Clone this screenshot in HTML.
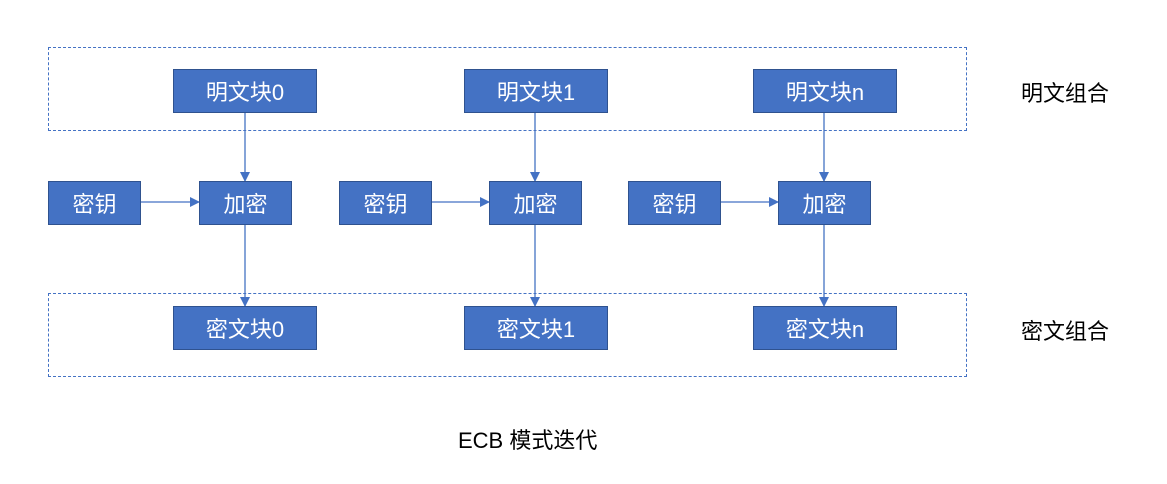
<!DOCTYPE html><html><head><meta charset="utf-8"><style>
body{margin:0;width:1167px;height:484px;background:#fff;position:relative;font-family:"Liberation Sans","Noto Sans CJK SC",sans-serif;overflow:hidden}
.b{position:absolute;background:#4472C4;border:1px solid #2F528F;box-sizing:border-box;color:#fff;font-size:22px;display:flex;align-items:center;justify-content:center}
.d{position:absolute;border:1px dashed #4472C4;box-sizing:border-box}
.t{position:absolute;font-size:22px;color:#000}
</style></head><body>
<div class="d" style="left:48px;top:47px;width:919px;height:84px"></div>
<div class="d" style="left:48px;top:293px;width:919px;height:84px"></div>
<svg style="position:absolute;left:0;top:0" width="1167" height="484">
<defs><marker id="a" markerWidth="10" markerHeight="10" refX="9" refY="5" orient="auto" markerUnits="userSpaceOnUse"><path d="M0,0L10,5L0,10z" fill="#4472C4"/></marker></defs>
<g stroke="#4472C4" stroke-width="1.3">
<line x1="245" y1="112" x2="245" y2="181" marker-end="url(#a)"/>
<line x1="535" y1="112" x2="535" y2="181" marker-end="url(#a)"/>
<line x1="824" y1="112" x2="824" y2="181" marker-end="url(#a)"/>
<line x1="245" y1="224" x2="245" y2="306" marker-end="url(#a)"/>
<line x1="535" y1="224" x2="535" y2="306" marker-end="url(#a)"/>
<line x1="824" y1="224" x2="824" y2="306" marker-end="url(#a)"/>
<line x1="141" y1="202" x2="199" y2="202" marker-end="url(#a)"/>
<line x1="432" y1="202" x2="489" y2="202" marker-end="url(#a)"/>
<line x1="721" y1="202" x2="778" y2="202" marker-end="url(#a)"/>
</g></svg>
<div class="b" style="left:173px;top:69px;width:144px;height:44px">明文块0</div>
<div class="b" style="left:464px;top:69px;width:144px;height:44px">明文块1</div>
<div class="b" style="left:753px;top:69px;width:144px;height:44px">明文块n</div>
<div class="b" style="left:48px;top:181px;width:93px;height:44px">密钥</div>
<div class="b" style="left:339px;top:181px;width:93px;height:44px">密钥</div>
<div class="b" style="left:628px;top:181px;width:93px;height:44px">密钥</div>
<div class="b" style="left:199px;top:181px;width:93px;height:44px">加密</div>
<div class="b" style="left:489px;top:181px;width:93px;height:44px">加密</div>
<div class="b" style="left:778px;top:181px;width:93px;height:44px">加密</div>
<div class="b" style="left:173px;top:306px;width:144px;height:44px">密文块0</div>
<div class="b" style="left:464px;top:306px;width:144px;height:44px">密文块1</div>
<div class="b" style="left:753px;top:306px;width:144px;height:44px">密文块n</div>
<div class="t" style="left:1021px;top:76px">明文组合</div>
<div class="t" style="left:1021px;top:314px">密文组合</div>
<div class="t" style="left:458px;top:423px">ECB 模式迭代</div>
</body></html>
